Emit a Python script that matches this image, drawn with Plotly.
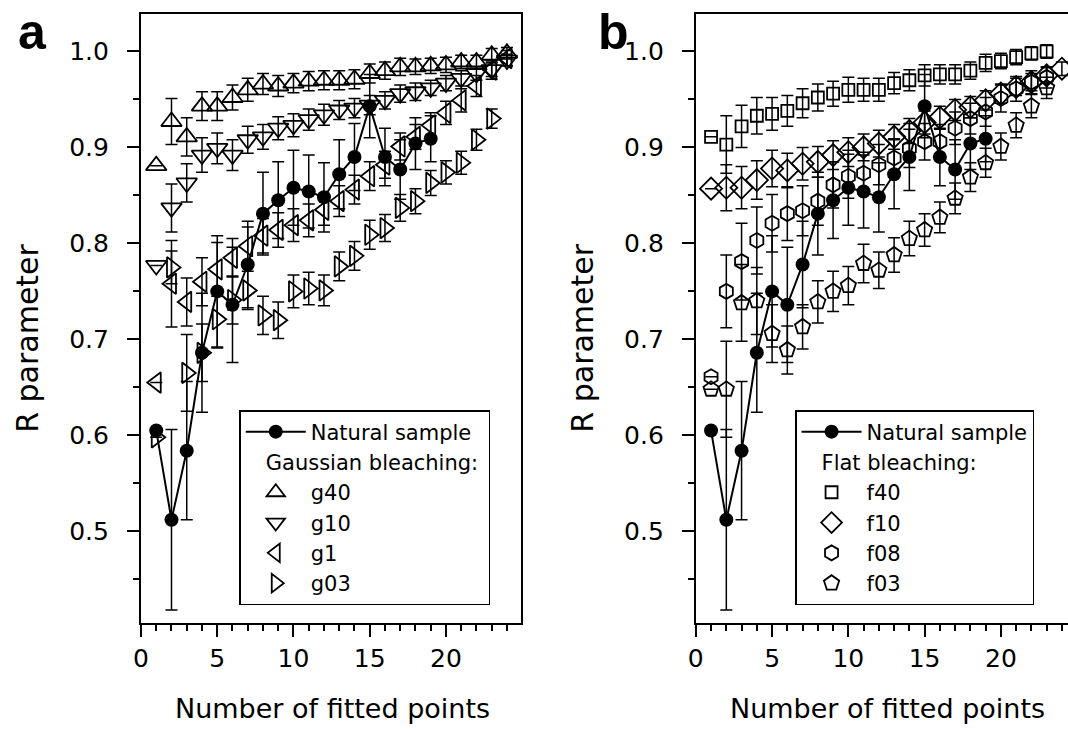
import plotly.graph_objects as go

# number of fitted points
n_nat = list(range(1, 20))
n24 = list(range(1, 25))
n23 = list(range(1, 24))

# natural sample (same in both panels)
nat = [0.605, 0.512, 0.584, 0.686, 0.750, 0.736, 0.778, 0.831, 0.845, 0.858,
       0.854, 0.848, 0.872, 0.890, 0.943, 0.890, 0.877, 0.904, 0.909]
nat_err = [0, 0.094, 0.072, 0.062, 0.058, 0.06, 0.045, 0.043, 0.04, 0.039,
           0.038, 0.036, 0.036, 0.035, 0.033, 0.03, 0.031, 0.027, 0.024]

# gaussian bleaching
g40 = [0.881, 0.927, 0.911, 0.943, 0.943, 0.952, 0.960, 0.966, 0.964, 0.967,
       0.969, 0.970, 0.970, 0.971, 0.977, 0.980, 0.984, 0.984, 0.985, 0.986,
       0.989, 0.989, 0.996, 0.998]
g40_err = [0, 0.024, 0.02, 0.015, 0.015, 0.013, 0.012, 0.011, 0.011, 0.01, 0.01, 0.01,
           0.01, 0.01, 0.01, 0.009, 0.009, 0.008, 0.008, 0.008, 0.007, 0.007, 0.007, 0.006]
g10 = [0.777, 0.837, 0.863, 0.892, 0.899, 0.892, 0.908, 0.911, 0.920, 0.923,
       0.929, 0.934, 0.939, 0.941, 0.944, 0.949, 0.956, 0.958, 0.962, 0.967,
       0.972, 0.977, 0.981, 0.991]
g10_err = [0, 0.025, 0.02, 0.018, 0.016, 0.016, 0.014, 0.013, 0.012, 0.012, 0.011, 0.011,
           0.01, 0.01, 0.01, 0.009, 0.009, 0.009, 0.008, 0.008, 0.008, 0.007, 0.007, 0.006]
g1 = [0.655, 0.758, 0.739, 0.760, 0.773, 0.785, 0.797, 0.808, 0.814, 0.819,
      0.824, 0.835, 0.844, 0.856, 0.870, 0.882, 0.901, 0.911, 0.923, 0.936,
      0.949, 0.964, 0.981, 0.993]
g1_err = [0, 0.045, 0.025, 0.025, 0.028, 0.02, 0.02, 0.018, 0.018, 0.017, 0.017, 0.016,
          0.016, 0.015, 0.015, 0.014, 0.014, 0.013, 0.013, 0.012, 0.012, 0.011, 0.01, 0.008]
g03 = [0.598, 0.775, 0.665, 0.686, 0.721, 0.741, 0.751, 0.725, 0.720, 0.750,
       0.753, 0.751, 0.776, 0.787, 0.809, 0.816, 0.837, 0.844, 0.863, 0.874,
       0.884, 0.908, 0.930]
g03_err = [0, 0.017, 0.04, 0.03, 0.03, 0.025, 0.02, 0.02, 0.019, 0.017, 0.017, 0.016,
           0.015, 0.015, 0.015, 0.014, 0.014, 0.013, 0.013, 0.012, 0.012, 0.011, 0.01]

# flat bleaching
f40 = [0.911, 0.903, 0.922, 0.933, 0.935, 0.938, 0.946, 0.952, 0.956, 0.960,
       0.960, 0.960, 0.967, 0.970, 0.975, 0.976, 0.976, 0.980, 0.988, 0.990,
       0.994, 0.998, 1.000]
f40_err = [0, 0.03, 0.022, 0.019, 0.017, 0.016, 0.015, 0.014, 0.013, 0.013, 0.012, 0.012,
           0.011, 0.011, 0.011, 0.01, 0.01, 0.009, 0.009, 0.008, 0.008, 0.007, 0.007]
f10 = [0.857, 0.858, 0.858, 0.866, 0.878, 0.876, 0.883, 0.885, 0.892, 0.895,
       0.900, 0.904, 0.911, 0.917, 0.926, 0.931, 0.939, 0.942, 0.949, 0.956,
       0.963, 0.968, 0.975, 0.982]
f10_err = [0, 0.024, 0.022, 0.02, 0.019, 0.018, 0.017, 0.016, 0.015, 0.015, 0.014, 0.014,
           0.013, 0.013, 0.012, 0.012, 0.011, 0.011, 0.01, 0.01, 0.009, 0.009, 0.008, 0.007]
f08 = [0.661, 0.750, 0.781, 0.803, 0.821, 0.831, 0.834, 0.844, 0.861, 0.870,
       0.873, 0.882, 0.889, 0.899, 0.906, 0.906, 0.920, 0.930, 0.937, 0.951,
       0.961, 0.968, 0.973]
f08_err = [0, 0.038, 0.04, 0.035, 0.03, 0.028, 0.026, 0.025, 0.024, 0.023, 0.022, 0.021,
           0.02, 0.02, 0.019, 0.018, 0.017, 0.016, 0.015, 0.014, 0.013, 0.012, 0.011]
f03 = [0.648, 0.648, 0.738, 0.740, 0.706, 0.689, 0.713, 0.739, 0.750, 0.756,
       0.779, 0.772, 0.788, 0.805, 0.814, 0.827, 0.847, 0.869, 0.884, 0.901,
       0.923, 0.943, 0.962]
f03_err = [0, 0.05, 0.04, 0.035, 0.03, 0.025, 0.023, 0.022, 0.021, 0.02, 0.02, 0.019,
           0.018, 0.018, 0.017, 0.016, 0.016, 0.015, 0.015, 0.014, 0.013, 0.012, 0.011]

FONT = "DejaVu Sans, Arial, sans-serif"
NB = "\u00a0\u00a0\u00a0"  # small indent for the group titles

fig = go.Figure()


def open_series(x, y, err, name, symbol, size, xa, ya, legend, group, gtitle, rank):
    fig.add_trace(go.Scatter(
        x=x, y=y, mode="markers", name=name,
        marker=dict(symbol=symbol, size=size, color="black",
                    line=dict(color="black", width=1.8)),
        error_y=dict(type="data", array=err, color="black", thickness=1.5, width=6),
        xaxis=xa, yaxis=ya, legend=legend, legendrank=rank,
        legendgroup=group, legendgrouptitle=dict(text=NB + gtitle, font=dict(size=21, family=FONT)),
    ))


def natural(xa, ya, legend):
    fig.add_trace(go.Scatter(
        x=n_nat, y=nat, mode="lines+markers", name="Natural sample",
        line=dict(color="black", width=2),
        marker=dict(symbol="circle", size=14, color="black"),
        error_y=dict(type="data", array=nat_err, color="black", thickness=1.5, width=6),
        xaxis=xa, yaxis=ya, legend=legend, legendgroup="nat" + legend, legendrank=1,
    ))


# panel a
open_series(n24, g40, g40_err, "g40", "triangle-up-open", 18, "x", "y", "legend", "g", "Gaussian bleaching:", 2)
open_series(n24, g10, g10_err, "g10", "triangle-down-open", 18, "x", "y", "legend", "g", "Gaussian bleaching:", 3)
open_series(n24, g1, g1_err, "g1", "triangle-left-open", 18, "x", "y", "legend", "g", "Gaussian bleaching:", 4)
open_series(n23, g03, g03_err, "g03", "triangle-right-open", 18, "x", "y", "legend", "g", "Gaussian bleaching:", 5)
natural("x", "y", "legend")

# panel b
open_series(n23, f40, f40_err, "f40", "square-open", 12, "x2", "y2", "legend2", "f", "Flat bleaching:", 2)
open_series(n24, f10, f10_err, "f10", "diamond-open", 17, "x2", "y2", "legend2", "f", "Flat bleaching:", 3)
open_series(n23, f08, f08_err, "f08", "hexagon-open", 15, "x2", "y2", "legend2", "f", "Flat bleaching:", 4)
open_series(n23, f03, f03_err, "f03", "pentagon-open", 16, "x2", "y2", "legend2", "f", "Flat bleaching:", 5)
natural("x2", "y2", "legend2")

ydom = [1 - 623 / 729, 1 - 14 / 729]
axis_common = dict(showline=True, linecolor="black", linewidth=2, ticks="outside",
                   ticklen=12, tickwidth=1.5, tickcolor="black", showgrid=False,
                   zeroline=False, tickfont=dict(size=25, family=FONT, color="black"))
xminor = dict(dtick=1, ticks="outside", ticklen=6, tickwidth=1.5, tickcolor="black")
yminor = dict(dtick=0.05, ticks="outside", ticklen=6, tickwidth=1.5, tickcolor="black")

legend_common = dict(yanchor="top", xanchor="left", bordercolor="black", borderwidth=1.5,
                     bgcolor="white", font=dict(size=21, family=FONT), itemwidth=60,
                     traceorder="grouped", tracegroupgap=0)

fig.update_layout(
    width=1068, height=729,
    margin=dict(l=0, r=0, t=0, b=0),
    plot_bgcolor="white", paper_bgcolor="white",
    font=dict(family=FONT, color="black"),
    xaxis=dict(domain=[134 / 1068, 517 / 1068], range=[0, 24.93], dtick=5, mirror=True,
               minor=xminor, anchor="y", ticklabelstandoff=0, **axis_common),
    yaxis=dict(domain=ydom, range=[0.4045, 1.039], dtick=0.1, tickformat=".1f", mirror=True,
               minor=yminor, anchor="x", ticklabelstandoff=13, **axis_common),
    xaxis2=dict(domain=[693 / 1068, 1.0], range=[0, 24.4], dtick=5, mirror=True,
                minor=xminor, anchor="y2", ticklabelstandoff=0, **axis_common),
    yaxis2=dict(domain=ydom, range=[0.4045, 1.039], dtick=0.1, tickformat=".1f", mirror=False,
                minor=yminor, anchor="x2", ticklabelstandoff=13, **axis_common),
    legend=dict(x=233 / 1068, y=1 - 410 / 729, **legend_common),
    legend2=dict(x=793 / 1068, y=1 - 410 / 729, **legend_common),
    showlegend=True,
)

ann = []
for xc in (327, 886):
    ann.append(dict(text="Number of fitted points", x=xc / 1068, y=1 - 708 / 729,
                    xref="paper", yref="paper", xanchor="center", yanchor="middle",
                    showarrow=False, font=dict(size=27, family=FONT)))
for xc in (19, 578):
    ann.append(dict(text="R parameter", x=xc / 1068, y=1 - 338 / 729, textangle=-90,
                    xref="paper", yref="paper", xanchor="center", yanchor="middle",
                    showarrow=False, font=dict(size=30, family=FONT)))
for txt, xc in (("a", 25), ("b", 610)):
    ann.append(dict(text="<b>%s</b>" % txt, x=xc / 1068, y=1 - 32 / 729, xref="paper", yref="paper",
                    xanchor="center", yanchor="middle", showarrow=False,
                    font=dict(size=50, family="Liberation Sans, Arial, sans-serif")))
fig.update_layout(annotations=ann)

fig.write_html("out.html", config={"displayModeBar": False},
               post_script="document.body.style.margin='0';document.body.style.overflow='hidden';")
